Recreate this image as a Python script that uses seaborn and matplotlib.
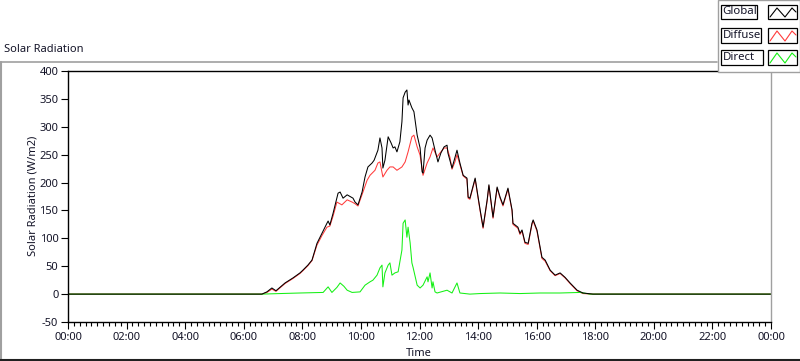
import matplotlib
matplotlib.use("Agg")
import matplotlib.pyplot as plt
from matplotlib.lines import Line2D
from matplotlib.patches import Rectangle
from matplotlib.ticker import FuncFormatter, MultipleLocator
import numpy as np
import pandas as pd
import seaborn as sns

# time of day in decimal hours, radiation in W/m2
GLOBAL_HOURS = [0.0, 6.62, 6.79, 6.96, 7.10, 7.41, 7.68, 7.92, 8.02, 8.19, 8.33, 8.50, 8.67, 8.84,
                8.88, 8.94, 9.05, 9.22, 9.29, 9.39, 9.53, 9.73, 9.80, 9.90, 10.04, 10.14, 10.24,
                10.38, 10.45, 10.58, 10.65, 10.72, 10.75, 10.82, 10.93, 11.03, 11.10, 11.16, 11.23,
                11.33, 11.40, 11.44, 11.51, 11.57, 11.61, 11.64, 11.74, 11.81, 11.92, 12.02, 12.09,
                12.12, 12.19, 12.26, 12.36, 12.43, 12.53, 12.63, 12.73, 12.84, 12.94, 12.97, 13.11,
                13.28, 13.38, 13.49, 13.62, 13.66, 13.72, 13.90, 14.00, 14.07, 14.17, 14.31, 14.37,
                14.51, 14.65, 14.75, 14.85, 15.02, 15.16, 15.19, 15.36, 15.43, 15.50, 15.60, 15.71,
                15.84, 15.88, 16.01, 16.18, 16.29, 16.46, 16.63, 16.80, 16.97, 17.14, 17.38, 17.58,
                17.92, 24.0]
GLOBAL_VALUES = [0, 0, 4, 11, 6, 20, 29, 38, 43, 52, 61, 91, 109, 127,
                 131, 124, 145, 181, 183, 172, 178, 172, 165, 160, 183, 210, 228,
                 235, 240, 258, 280, 262, 226, 240, 282, 271, 262, 264, 255,
                 273, 309, 352, 362, 366, 339, 348, 334, 327, 285, 262, 219,
                 217, 262, 276, 285, 280, 258, 237, 253, 264, 267, 253, 226,
                 258, 235, 213, 208, 174, 172, 208, 174, 151, 120, 169, 196,
                 138, 192, 174, 160, 190, 151, 127, 120, 109, 115, 93, 91,
                 127, 133, 115, 66, 61, 43, 34, 38, 30, 20, 7, 2,
                 0, 0]

DIFFUSE_HOURS = [0.0, 6.62, 6.79, 6.96, 7.10, 7.41, 7.68, 7.92, 8.02, 8.19, 8.33, 8.50, 8.67, 8.84,
                 8.94, 9.05, 9.18, 9.35, 9.53, 9.70, 9.80, 9.90, 10.07, 10.21, 10.31, 10.48, 10.58,
                 10.65, 10.75, 10.89, 10.99, 11.10, 11.23, 11.40, 11.51, 11.61, 11.74, 11.81, 11.92,
                 12.02, 12.12, 12.26, 12.36, 12.46, 12.60, 12.70, 12.84, 12.94, 13.04, 13.11, 13.21,
                 13.28, 13.38, 13.49, 13.62, 13.66, 13.72, 13.90, 14.00, 14.07, 14.17, 14.31, 14.37,
                 14.51, 14.65, 14.75, 14.85, 15.02, 15.16, 15.19, 15.36, 15.43, 15.50, 15.60, 15.71,
                 15.84, 15.88, 16.01, 16.18, 16.29, 16.46, 16.63, 16.80, 16.97, 17.14, 17.38, 17.58,
                 17.92, 24.0]
DIFFUSE_VALUES = [0, 0, 3, 9, 5, 19, 28, 37, 42, 51, 60, 88, 105, 120,
                  122, 140, 165, 160, 169, 165, 162, 158, 183, 204, 213, 222, 235,
                  237, 210, 222, 228, 228, 222, 228, 237, 255, 282, 285, 264,
                  249, 213, 235, 246, 262, 246, 253, 262, 262, 245, 224, 237,
                  250, 232, 212, 206, 172, 170, 206, 172, 149, 118, 167, 194,
                  136, 190, 172, 158, 188, 149, 125, 118, 107, 113, 91, 89,
                  125, 131, 113, 64, 59, 42, 33, 37, 29, 19, 6, 1,
                  0, 0]

DIRECT_HOURS = [0.0, 6.62, 7.24, 7.92, 8.71, 8.88, 9.01, 9.18, 9.29, 9.42, 9.53, 9.70, 9.97,
                10.14, 10.31, 10.41, 10.55, 10.65, 10.72, 10.75, 10.82, 10.93, 10.99, 11.06, 11.16,
                11.27, 11.40, 11.44, 11.51, 11.57, 11.61, 11.68, 11.74, 11.78, 11.92, 12.02, 12.12,
                12.26, 12.29, 12.36, 12.43, 12.46, 12.53, 12.60, 12.94, 13.11, 13.28, 13.38, 13.72,
                14.07, 14.75, 15.43, 16.11, 16.80, 17.48, 17.82, 24.0]
DIRECT_VALUES = [0, 0, 1, 2, 3, 13, 3, 12, 20, 14, 7, 3, 4,
                 16, 22, 25, 34, 47, 52, 13, 38, 52, 56, 34, 38,
                 40, 79, 127, 133, 102, 120, 92, 56, 48, 16, 11, 16,
                 31, 22, 38, 11, 22, 4, 2, 7, 2, 20, 2, 0,
                 1, 2, 1, 2, 2, 3, 0, 0]

SERIES = ["Global", "Diffuse", "Direct"]
COLORS = {"Global": "#000000", "Diffuse": "#ff3b3b", "Direct": "#14f014"}

W, H = 800, 361
TEXT = "#141428"


def fx(x):
    return x / W


def fy(y):
    return 1 - y / H


frames = [
    pd.DataFrame({"hour": GLOBAL_HOURS, "value": GLOBAL_VALUES, "series": "Global"}),
    pd.DataFrame({"hour": DIFFUSE_HOURS, "value": DIFFUSE_VALUES, "series": "Diffuse"}),
    pd.DataFrame({"hour": DIRECT_HOURS, "value": DIRECT_VALUES, "series": "Direct"}),
]
df = pd.concat(frames, ignore_index=True)

sns.set_style("white")
plt.rcParams["font.family"] = ["Noto Sans", "DejaVu Sans"]
plt.rcParams["axes.unicode_minus"] = False

fig = plt.figure(figsize=(W / 100, H / 100), dpi=100)
ax = fig.add_axes([fx(68), fy(322), (771 - 68) / W, (322 - 71) / H])

sns.lineplot(data=df, x="hour", y="value", hue="series",
             hue_order=["Diffuse", "Direct", "Global"], palette=COLORS,
             estimator=None, sort=False, legend=False, linewidth=0.75, ax=ax)

ax.set_xlim(0, 24)
ax.set_ylim(-50, 400)
ax.xaxis.set_major_locator(MultipleLocator(2))
ax.xaxis.set_minor_locator(MultipleLocator(0.2))
ax.yaxis.set_major_locator(MultipleLocator(50))
ax.xaxis.set_major_formatter(FuncFormatter(lambda v, p: "%02d:00" % (int(round(v)) % 24)))
ax.tick_params(axis="both", which="major", direction="out", length=5, width=0.8,
               color="#000000", labelsize=8, labelcolor=TEXT, pad=2)
ax.tick_params(axis="x", which="minor", direction="out", length=3, width=0.8, color="#000000")
ax.tick_params(axis="x", bottom=True, which="both")
ax.tick_params(axis="y", left=True)
ax.set_xlabel("")
ax.set_ylabel("")
for side in ["left", "top", "bottom"]:
    ax.spines[side].set_color("#000000")
    ax.spines[side].set_linewidth(1.0)
ax.spines["right"].set_color("#a0a0a0")
ax.spines["right"].set_linewidth(1.0)

fig.text(fx(419), fy(353), "Time", ha="center", va="center", fontsize=8, color=TEXT)
fig.text(fx(33), fy(196), "Solar Radiation (W/m2)", ha="center", va="center",
         rotation=90, fontsize=8, color=TEXT)
fig.text(fx(4), fy(50), "Solar Radiation", ha="left", va="center", fontsize=8, color=TEXT)

# panel frame
fig.add_artist(Line2D([fx(0), fx(717)], [fy(61.5), fy(61.5)], color="#a0a0a0", lw=1.2))
fig.add_artist(Line2D([fx(0.8), fx(0.8)], [fy(61.5), fy(360)], color="#a0a0a0", lw=1.5))
fig.add_artist(Line2D([fx(0), fx(800)], [fy(360), fy(360)], color="#202020", lw=1.5))

# legend box
fig.add_artist(Rectangle((fx(717.5), fy(72)), (800 - 717.5) / W, 72 / H,
                         facecolor="#ffffff", edgecolor="#a0a0a0", lw=1.0))
rows = [(5, 19, 757), (28, 43, 761), (50, 65, 763)]
for name, (top, bottom, right) in zip(SERIES, rows):
    fig.add_artist(Rectangle((fx(721), fy(bottom)), (right - 721) / W, (bottom - top) / H,
                             facecolor="#ffffff", edgecolor="#000000", lw=0.9))
    fig.text(fx(722.5), fy((top + bottom) / 2), name, ha="left", va="center",
             fontsize=8.2, color=TEXT)
    fig.add_artist(Rectangle((fx(768), fy(bottom)), (797 - 768) / W, (bottom - top) / H,
                             facecolor="#ffffff", edgecolor="#000000", lw=0.9))
    zx = [770, 777, 785, 792, 796]
    zy = [bottom - 2, top + 3, bottom - 2, top + 3, top + 7]
    fig.add_artist(Line2D([fx(v) for v in zx], [fy(v) for v in zy],
                          color=COLORS[name], lw=0.8))

fig.savefig("out.png", dpi=100, facecolor="white")
